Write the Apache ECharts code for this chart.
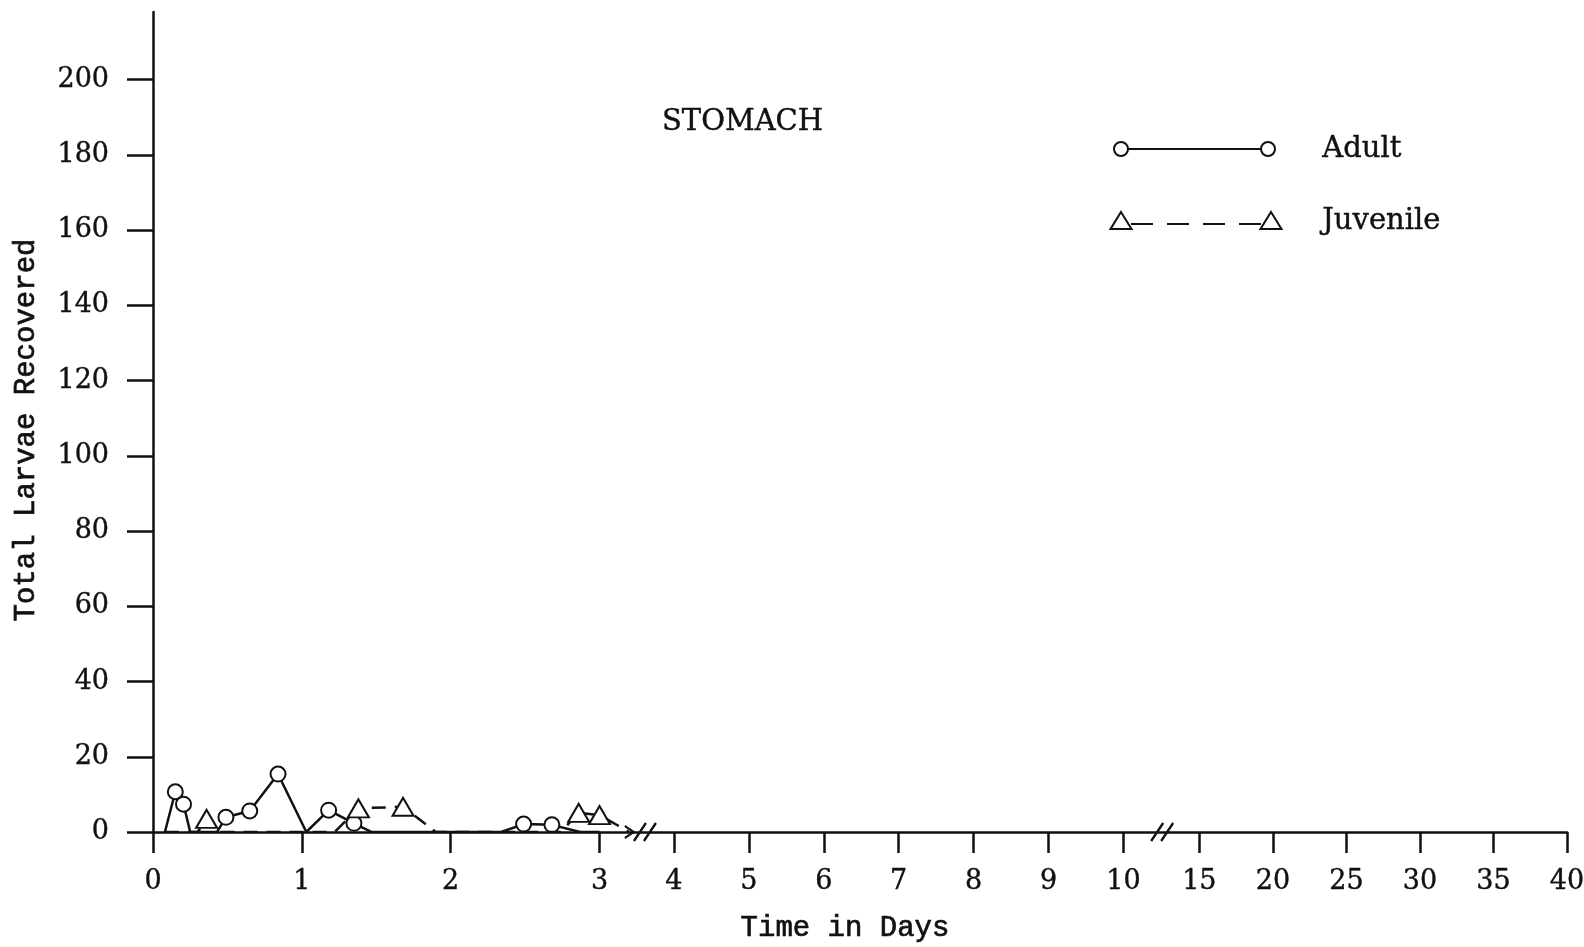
<!DOCTYPE html>
<html><head><meta charset="utf-8">
<script src="https://cdn.jsdelivr.net/npm/echarts@6/dist/echarts.min.js"></script>
<style>html,body{margin:0;padding:0;background:#fff}#c{width:1584px;height:947px}</style>
</head><body><div id="c"></div>
<script>
// ---- texts ----
const chartTitle = 'STOMACH';
const xName = 'Time in Days';
const yName = 'Total Larvae Recovered';
const seriesNames = ['Adult', 'Juvenile'];
// ---- tick labels ----
const xTickDays = [0,1,2,3,4,5,6,7,8,9,10,15,20,25,30,35,40];
const yTicks = [0,20,40,60,80,100,120,140,160,180,200];
// ---- data (days, larvae) ----
const adultDays = [0.08,0.15,0.205,0.25,0.43,0.49,0.65,0.84,1.03,1.18,1.35,1.47,2.34,2.49,2.68,2.87,3.0];
const adultVals = [0,10.7,7.4,0,0,3.9,5.6,15.4,0,5.8,2.3,0,0,2.1,1.9,0,0];
const juvDays   = [0.08,0.30,0.36,0.43,1.22,1.38,1.68,1.90,2.74,2.86,3.0,3.4];
const juvVals   = [0,0,3.5,0,0,6.3,6.7,0,0,5.1,4.5,0];
// ---- broken time axis: day anchors and their axis units ----
const scaleDays  = [0,3,4,10,15,40];
const scaleUnits = [0,3,3.5,6.52,7.03,9.5];
const breakDays  = [3.61, 12.55];

function toAxis(d){
  for(let i=0;i<scaleDays.length-1;i++){
    if(d<=scaleDays[i+1] || i===scaleDays.length-2){
      const t=(d-scaleDays[i])/(scaleDays[i+1]-scaleDays[i]);
      return scaleUnits[i]+t*(scaleUnits[i+1]-scaleUnits[i]);
    }
  }
}
function fromAxis(u){
  for(let i=0;i<scaleUnits.length-1;i++){
    if(u<=scaleUnits[i+1]+1e-9 || i===scaleUnits.length-2){
      const t=(u-scaleUnits[i])/(scaleUnits[i+1]-scaleUnits[i]);
      return scaleDays[i]+t*(scaleDays[i+1]-scaleDays[i]);
    }
  }
}

const INK = '#111';
const serif = 'DejaVu Serif';
const mono = 'Liberation Mono';
const thick = {textBorderColor:INK, textBorderWidth:0.7};
const thickSerif = {textBorderColor:INK, textBorderWidth:0.4};

const adultData = adultDays.map((d,i)=>({
  value:[toAxis(d), adultVals[i]],
  symbol: adultVals[i] > 0 ? 'emptyCircle' : 'none'
}));
const juvData = juvDays.map((d,i)=>{
  const item = {value:[toAxis(d), juvVals[i]], symbol: juvVals[i] > 0 ? 'emptyTriangle' : 'none'};
  if(i===juvDays.length-1){
    item.symbol='path://M0,0L10,6L0,12';
    item.symbolSize=[9,12];
    item.itemStyle={color:'rgba(0,0,0,0)',borderColor:INK,borderWidth:2};
  }
  return item;
});

const xTickUnits = xTickDays.map(toAxis);
const chart = echarts.init(document.getElementById('c'), null, {renderer:'canvas'});
chart.setOption({
  backgroundColor:'#fff',
  animation:false,
  title:{text:chartTitle,left:657,top:103,textStyle:Object.assign({fontFamily:serif,fontSize:29,fontWeight:'normal',color:INK},thickSerif)},
  grid:{left:153,right:17,top:12,bottom:115,containLabel:false,outerBoundsMode:'none'},
  xAxis:{
    type:'value',min:0,max:scaleUnits[scaleUnits.length-1],
    name:xName,nameLocation:'middle',nameGap:82,nameMoveOverlap:false,
    nameTextStyle:Object.assign({fontFamily:mono,fontSize:29,color:INK,padding:[0,30,0,0]},thick),
    axisLine:{show:true,onZero:false,lineStyle:{color:INK,width:2.5}},
    axisTick:{show:true,length:21,customValues:xTickUnits,lineStyle:{color:INK,width:2.5}},
    axisLabel:Object.assign({customValues:xTickUnits,margin:36,fontFamily:serif,fontSize:27,color:INK,
      formatter:v=>String(Math.round(fromAxis(v)))},thickSerif),
    splitLine:{show:false}
  },
  yAxis:{
    type:'value',min:0,max:218,
    name:yName,nameLocation:'middle',nameGap:112,nameMoveOverlap:false,
    nameTextStyle:Object.assign({fontFamily:mono,fontSize:29,color:INK,padding:[0,16,0,0]},thick),
    axisLine:{show:true,lineStyle:{color:INK,width:2.5}},
    axisTick:{show:true,length:26,customValues:yTicks,lineStyle:{color:INK,width:2.5}},
    axisLabel:Object.assign({customValues:yTicks,margin:44,fontFamily:serif,fontSize:27,color:INK},thickSerif),
    splitLine:{show:false}
  },
  series:[
    {type:'line',name:seriesNames[0],data:adultData,symbolSize:15,
     lineStyle:{color:INK,width:2.5},itemStyle:{color:INK,borderWidth:2},z:3},
    {type:'line',name:seriesNames[1],data:juvData,symbolSize:[21,18],
     lineStyle:{color:INK,width:2.5,type:[14,9]},itemStyle:{color:INK,borderWidth:2},z:4}
  ]
});

// break marks and legend
const g = [];
breakDays.forEach(d=>{
  const p = chart.convertToPixel({xAxisIndex:0,yAxisIndex:0},[toAxis(d),0]);
  [-5,5].forEach(o=>{
    g.push({type:'line',shape:{x1:p[0]+o-6,y1:p[1]+9,x2:p[0]+o+6,y2:p[1]-9},style:{stroke:INK,lineWidth:2.3},z:10});
  });
});
// legend
const lx1=1121, lx2=1268, ly1=149, ly2=221;
g.push({type:'line',shape:{x1:lx1+7,y1:ly1,x2:lx2-7,y2:ly1},style:{stroke:INK,lineWidth:2.2}});
g.push({type:'circle',shape:{cx:lx1,cy:ly1,r:7},style:{fill:'#fff',stroke:INK,lineWidth:2}});
g.push({type:'circle',shape:{cx:lx2,cy:ly1,r:7},style:{fill:'#fff',stroke:INK,lineWidth:2}});
g.push({type:'text',left:1322,top:ly1-14,style:{text:seriesNames[0],font:'29px "DejaVu Serif"',fill:INK,stroke:INK,lineWidth:0.4}});
const tri=(cx,cy)=>({type:'polygon',shape:{points:[[cx,cy-9],[cx+10.5,cy+8],[cx-10.5,cy+8]]},style:{fill:'#fff',stroke:INK,lineWidth:2}});
g.push({type:'line',shape:{x1:lx1+10,y1:ly2+3,x2:lx2-6,y2:ly2+3},style:{stroke:INK,lineWidth:2.2,lineDash:[22,14]}});
g.push(tri(lx1,ly2));
g.push(tri(lx2+3,ly2));
g.push({type:'text',left:1322,top:ly2-14,style:{text:seriesNames[1],font:'29px "DejaVu Serif"',fill:INK,stroke:INK,lineWidth:0.4}});
chart.setOption({graphic:g});
</script></body></html>
